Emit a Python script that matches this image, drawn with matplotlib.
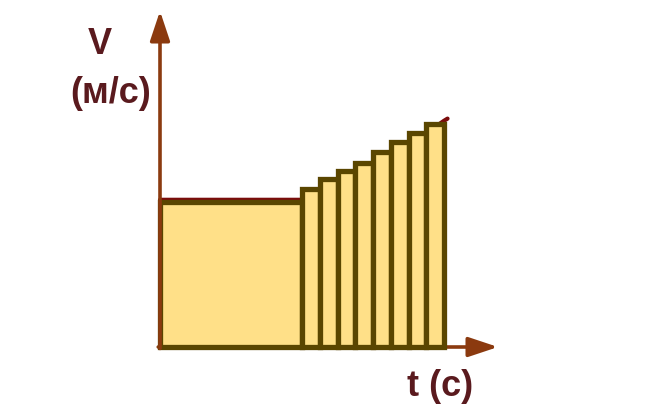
import matplotlib
matplotlib.use("Agg")
import matplotlib.pyplot as plt
import matplotlib.transforms as mtransforms
from matplotlib.patches import Rectangle

# data
big_interval = (0.0, 8.0)
big_velocity = 10.0
bar_starts = [8, 9, 10, 11, 12, 13, 14, 15]
bar_velocities = [10.9, 11.6, 12.15, 12.7, 13.45, 14.15, 14.75, 15.35]
curve_t = [8.0, 9.0, 10.0, 11.0, 12.0, 13.0, 14.0, 15.0, 16.0, 16.2]
curve_v = [10.0, 10.6, 11.3, 11.95, 12.55, 13.2, 13.9, 14.6, 15.45, 15.6]
ylabel_text = ["V", "(м/с)"]
xlabel_text = "t (c)"

fill_c = "#FFE088"
edge_c = "#5A4600"
axis_c = "#8B3A0F"
line_c = "#7A0C0C"
text_c = "#5A1A1E"

fig = plt.figure(figsize=(6.47, 4.10), dpi=100)
ax = fig.add_axes([0, 0, 1, 1])
sx, sy = 17.75, 14.5
ax.set_xlim(-160 / sx, (647 - 160) / sx)
ax.set_ylim((348 - 410) / sy, 348 / sy)
ax.axis("off")

# red line on top (drawn slightly above the outlines)
up = mtransforms.offset_copy(ax.transData, fig=fig, x=0, y=2.2, units="dots")
ax.plot([big_interval[0], big_interval[1]] + curve_t[1:],
        [big_velocity, big_velocity] + curve_v[1:],
        color=line_c, lw=3.0, solid_capstyle="round", zorder=2, transform=up)

# big rectangle
ax.add_patch(Rectangle((big_interval[0], 0), big_interval[1] - big_interval[0], big_velocity,
                       facecolor=fill_c, edgecolor=edge_c, lw=3.8, zorder=3))
# small bars
ax.bar(bar_starts, bar_velocities, width=1.0, align="edge",
       color=fill_c, edgecolor=edge_c, linewidth=3.8, zorder=3)

# axes arrows
ax.annotate("", xy=(0, (348 - 12) / sy), xytext=(0, -0.1),
            arrowprops=dict(arrowstyle="-|>,head_length=1.8,head_width=0.6",
                            color=axis_c, lw=2.6, shrinkA=0, shrinkB=0), zorder=4)
ax.annotate("", xy=((498 - 160) / sx, 0), xytext=(-0.1, 0),
            arrowprops=dict(arrowstyle="-|>,head_length=1.8,head_width=0.6",
                            color=axis_c, lw=2.6, shrinkA=0, shrinkB=0), zorder=2)

# labels
ax.text((100 - 160) / sx, (348 - 45) / sy, ylabel_text[0], color=text_c,
        fontsize=26, fontweight="bold", family="Liberation Sans", ha="center", va="center")
ax.text((111 - 160) / sx, (348 - 94) / sy, ylabel_text[1], color=text_c,
        fontsize=26, fontweight="bold", family="Liberation Sans", ha="center", va="center")
ax.text((440 - 160) / sx, (348 - 387) / sy, xlabel_text, color=text_c,
        fontsize=26, fontweight="bold", family="Liberation Sans", ha="center", va="center")

fig.savefig("out.png", dpi=100, facecolor="white")
